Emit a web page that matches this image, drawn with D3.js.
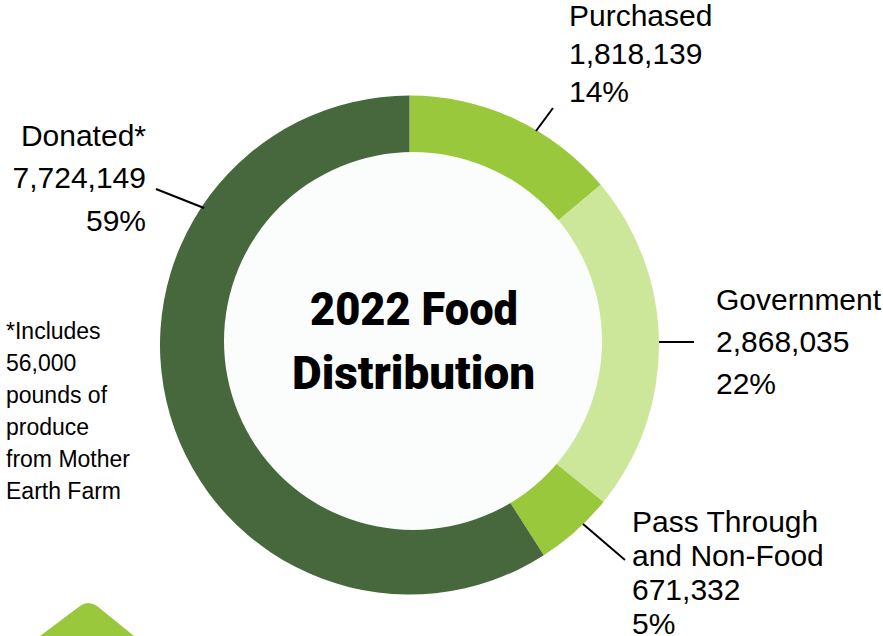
<!DOCTYPE html>
<html><head><meta charset="utf-8">
<script src="https://cdn.jsdelivr.net/npm/d3@7/dist/d3.min.js"></script>
<style>html,body{margin:0;padding:0;background:#fff}svg{display:block}</style></head>
<body><svg id="c" width="883" height="636"></svg>
<script>
const categories = ["Purchased","Government","Pass Through and Non-Food","Donated"];
const values = [1818139,2868035,671332,7724149];
const colors = ["#99c83c","#cce799","#99c83c","#47683d"];
const labelLines = [
 ["Purchased","1,818,139","14%"],
 ["Government","2,868,035","22%"],
 ["Pass Through","and Non-Food","671,332","5%"],
 ["Donated*","7,724,149","59%"]];
const labelSpec = [
 {x:569,ys:[26,64,102],a:"start"},
 {x:716,ys:[310,352,394],a:"start"},
 {x:632,ys:[532,566,600,634],a:"start"},
 {x:146,ys:[146,188,231],a:"end"}];
const leaders = [[[536,131],[553,108]],[[659,342],[694,342]],[[583,524],[625,560]],[[204,208],[156,189]]];
const note = ["*Includes","56,000","pounds of","produce","from Mother","Earth Farm"];
const titleLines = ["2022 Food","Distribution"];

const svg = d3.select("#c");
const W="Liberation Sans, Arial, sans-serif";
svg.append("path").attr("d","M40 636 L80 606 Q88 600 97 606 L134 636 Z").attr("fill","#99c83c");

const pie = d3.pie().sort(null).value(d=>d)(values);
const arc = d3.arc().innerRadius(180).outerRadius(249.5);
const g = svg.append("g").attr("transform","translate(409.5,345)");
g.selectAll("path").data(pie).join("path").attr("d",arc).attr("fill",(d,i)=>colors[i]);
svg.append("circle").attr("cx",413).attr("cy",341).attr("r",189).attr("fill","#fafdfc");

svg.append("g").selectAll("path").data(leaders).join("path")
 .attr("d",d3.line()).attr("stroke","#000").attr("stroke-width",2).attr("fill","none");

labelLines.forEach((ls,i)=>{
  const s=labelSpec[i];
  ls.forEach((t,j)=>svg.append("text").text(t).attr("x",s.x).attr("y",s.ys[j])
   .attr("text-anchor",s.a).attr("font-family",W).attr("font-size",30).attr("fill","#000"));
});
note.forEach((t,j)=>svg.append("text").text(t).attr("x",6).attr("y",339+j*32)
  .attr("font-family",W).attr("font-size",23).attr("fill","#000"));
const tW=[[310,208],[292,243]];
titleLines.forEach((t,j)=>svg.append("text").text(t).attr("x",tW[j][0]).attr("y",325+j*64)
  .attr("font-family","Roboto, sans-serif").attr("font-weight",900).attr("font-size",46)
  .attr("textLength",tW[j][1]).attr("lengthAdjust","spacingAndGlyphs").attr("fill","#000"));
</script></body></html>
